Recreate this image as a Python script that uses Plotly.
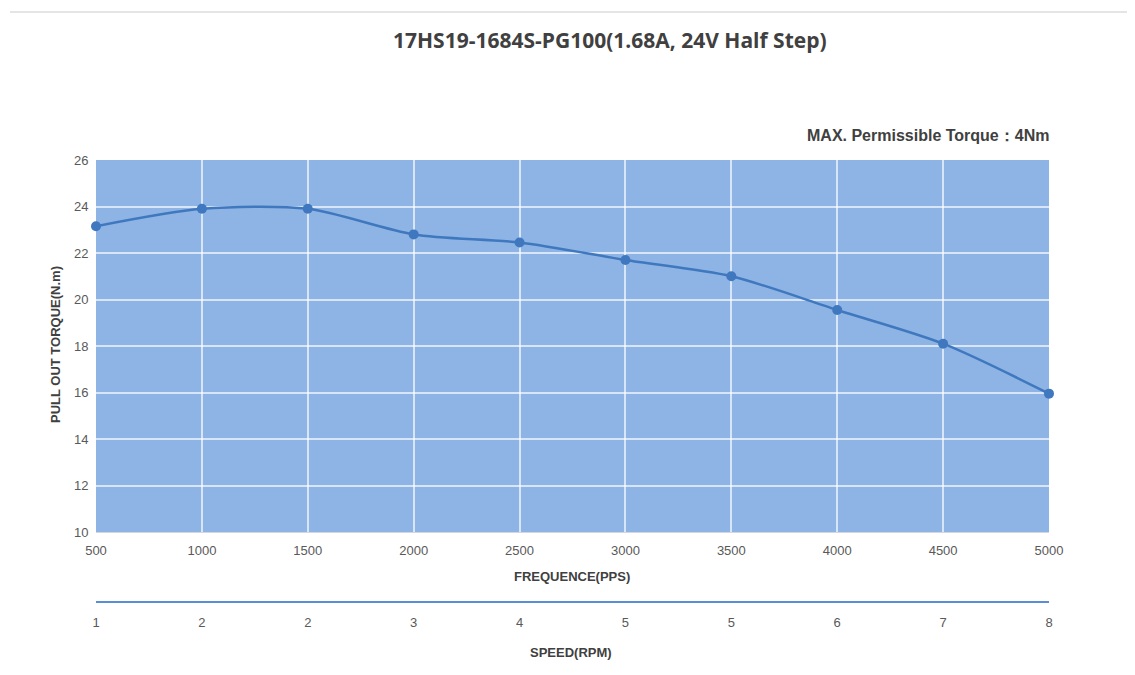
import plotly.graph_objects as go

frequency_pps = [500, 1000, 1500, 2000, 2500, 3000, 3500, 4000, 4500, 5000]
torque_nm = [23.15, 23.9, 23.9, 22.8, 22.45, 21.7, 21.0, 19.55, 18.1, 15.95]
speed_labels = ["1", "2", "2", "3", "4", "5", "5", "6", "7", "8"]
y_ticks = [10, 12, 14, 16, 18, 20, 22, 24, 26]

OFF = 8  # default page body margin
W, H = 1135 - OFF, 675 - OFF
ML, MR, MT, MB = 96 - OFF, 86, 160 - OFF, 40
PW, PH = W - ML - MR, H - MT - MB

def px_x(x):
    return (x - OFF - ML) / PW

def px_y(y):
    return (H - MB - (y - OFF)) / PH

line_color = "#3F78BE"
text_color = "#595959"
dark_text = "#404040"
font_family = "Liberation Sans Narrow, Arial Narrow, Liberation Sans, Arial, sans-serif"

fig = go.Figure()
fig.add_trace(go.Scatter(
    x=frequency_pps, y=torque_nm, mode="lines+markers",
    line=dict(color=line_color, width=2.5, shape="spline", smoothing=0.8),
    marker=dict(color=line_color, size=10),
    cliponaxis=False, showlegend=False, hoverinfo="x+y",
))
fig.add_trace(go.Scatter(
    x=frequency_pps, y=torque_nm, xaxis="x2", mode="markers",
    marker=dict(opacity=0), showlegend=False, hoverinfo="skip",
))

fig.update_layout(
    width=W, height=H,
    margin=dict(l=ML, r=MR, t=MT, b=MB),
    paper_bgcolor="white",
    plot_bgcolor="#8DB4E4",
    font=dict(family=font_family, color=text_color, size=12),
    xaxis=dict(
        range=[500, 5000], tickvals=frequency_pps, ticktext=[str(v) for v in frequency_pps],
        showgrid=True, gridcolor="rgba(255,255,255,0.65)", gridwidth=1.5,
        showline=True, linecolor="#D0D8E4", linewidth=1,
        ticks="outside", ticklen=6, tickcolor="rgba(0,0,0,0)",
        zeroline=False, tickfont=dict(size=13, color=text_color),
    ),
    yaxis=dict(
        range=[10, 26], tickvals=y_ticks, domain=[px_y(532), 1],
        showgrid=True, gridcolor="rgba(255,255,255,0.65)", gridwidth=1.5,
        showline=False, zeroline=False,
        ticks="outside", ticklen=4, tickcolor="rgba(0,0,0,0)",
        tickfont=dict(size=13, color=text_color),
    ),
    xaxis2=dict(
        range=[500, 5000], overlaying="x", anchor="free", position=px_y(602),
        side="bottom", tickvals=frequency_pps, ticktext=speed_labels,
        showgrid=False, zeroline=False,
        showline=True, linecolor="#5B8DD6", linewidth=2,
        ticks="outside", ticklen=8, tickcolor="rgba(0,0,0,0)",
        tickfont=dict(size=13, color=text_color),
    ),
    shapes=[dict(type="line", xref="paper", yref="paper",
                 x0=px_x(10), x1=px_x(1135), y0=px_y(12), y1=px_y(12),
                 line=dict(color="#DCDCDC", width=1.5))],
    annotations=[
        dict(text="<b>17HS19-1684S-PG100(1.68A, 24V Half Step)</b>", xref="paper", yref="paper",
             x=px_x(610), y=px_y(40), showarrow=False, xanchor="center", yanchor="middle",
             font=dict(size=21, color=dark_text, family="Open Sans, Liberation Sans, sans-serif")),
        dict(text="<b>MAX. Permissible Torque：4Nm</b>", xref="paper", yref="paper",
             x=px_x(1051), y=px_y(136), showarrow=False, xanchor="right", yanchor="middle",
             font=dict(size=16, color=dark_text)),
        dict(text="<b>FREQUENCE(PPS)</b>", xref="paper", yref="paper",
             x=px_x(572), y=px_y(576), showarrow=False, xanchor="center", yanchor="middle",
             font=dict(size=13, color=dark_text)),
        dict(text="<b>SPEED(RPM)</b>", xref="paper", yref="paper",
             x=px_x(571), y=px_y(652), showarrow=False, xanchor="center", yanchor="middle",
             font=dict(size=13, color=dark_text)),
        dict(text="<b>PULL OUT TORQUE(N.m)</b>", xref="paper", yref="paper",
             x=px_x(55), y=px_y(345), showarrow=False, xanchor="center", yanchor="middle",
             textangle=-90, font=dict(size=13, color=dark_text)),
    ],
)

fig.write_html("out.html")
